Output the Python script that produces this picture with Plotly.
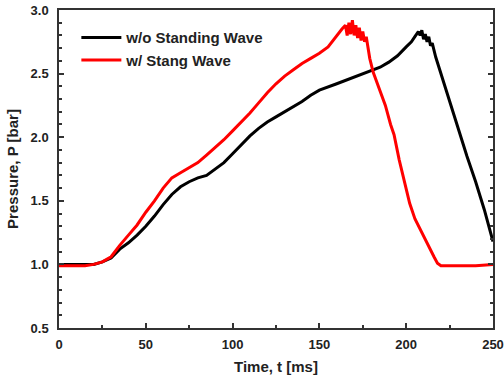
import plotly.graph_objects as go

# Without standing wave (black)
t_black = [0, 5, 10, 15, 20, 25, 30, 35, 40, 45, 50, 55, 60, 65, 70, 75, 80, 85, 90, 95, 100,
           105, 110, 115, 120, 125, 130, 135, 140, 145, 150, 160, 170, 180, 185, 190, 195, 200,
           203, 205, 207, 208, 209, 210, 211, 212, 213, 214, 215, 217, 220, 225, 230, 235, 240,
           245, 250]
p_black = [1.00, 1.00, 1.00, 1.00, 1.00, 1.02, 1.05, 1.12, 1.17, 1.23, 1.30, 1.38, 1.47, 1.55, 1.61,
           1.65, 1.68, 1.70, 1.75, 1.80, 1.87, 1.94, 2.01, 2.07, 2.12, 2.16, 2.20, 2.24, 2.28, 2.33,
           2.37, 2.42, 2.47, 2.52, 2.55, 2.59, 2.64, 2.71, 2.75, 2.79, 2.83, 2.80, 2.84, 2.77, 2.81,
           2.75, 2.79, 2.72, 2.74, 2.63, 2.50, 2.27, 2.06, 1.85, 1.65, 1.43, 1.18]

# With standing wave (red)
t_red = [0, 5, 10, 15, 20, 25, 30, 35, 40, 45, 50, 55, 60, 65, 70, 75, 80, 85, 90, 95, 100,
         105, 110, 115, 120, 125, 130, 135, 140, 145, 150, 155, 160, 163, 165, 166, 167, 168,
         169, 170, 171, 172, 173, 174, 175, 176, 177, 179, 181, 185, 188, 191, 193, 196, 199,
         202, 205, 210, 213, 216, 218, 220, 230, 240, 250]
p_red = [0.99, 0.99, 0.99, 0.99, 1.00, 1.02, 1.06, 1.15, 1.23, 1.31, 1.41, 1.50, 1.60, 1.68, 1.72,
         1.76, 1.80, 1.86, 1.92, 1.98, 2.05, 2.12, 2.19, 2.27, 2.35, 2.42, 2.48, 2.53, 2.58, 2.62,
         2.66, 2.71, 2.80, 2.85, 2.88, 2.80, 2.90, 2.81, 2.92, 2.80, 2.88, 2.78, 2.86, 2.76, 2.83,
         2.75, 2.79, 2.62, 2.51, 2.36, 2.25, 2.10, 2.02, 1.82, 1.64, 1.48, 1.36, 1.22, 1.14, 1.06,
         1.01, 0.99, 0.99, 0.99, 1.00]

x_ticks = [0, 50, 100, 150, 200, 250]
y_ticks = [0.5, 1.0, 1.5, 2.0, 2.5, 3.0]
y_tick_labels = ["0.5", "1.0", "1.5", "2.0", "2.5", "3.0"]

font_family = "Liberation Sans, Arial, sans-serif"

fig = go.Figure()
fig.add_trace(go.Scatter(x=t_black, y=p_black, mode="lines", name="w/o Standing Wave",
                         line=dict(color="black", width=3)))
fig.add_trace(go.Scatter(x=t_red, y=p_red, mode="lines", name="w/ Stang Wave",
                         line=dict(color="#ff0000", width=3)))

fig.update_layout(
    width=504, height=383,
    margin=dict(l=59, r=11, t=10, b=55),
    plot_bgcolor="white", paper_bgcolor="white",
    font=dict(family=font_family, size=12, color="#222222"),
    showlegend=True,
    legend=dict(x=0.04, y=0.965, xanchor="left", yanchor="top",
                bgcolor="rgba(0,0,0,0)", borderwidth=0,
                font=dict(family=font_family, size=15, color="#222222", weight="bold"),
                itemwidth=40, tracegroupgap=0),
)
fig.update_xaxes(
    range=[0, 250], tickvals=x_ticks, ticks="inside", ticklen=5, tickwidth=1.5,
    minor=dict(dtick=25, ticks="inside", ticklen=3, tickwidth=1.5, tickcolor="#333"),
    showline=True, linecolor="#333", linewidth=1.5, mirror=True,
    showgrid=False, zeroline=False, tickcolor="#333", automargin=False,
    tickfont=dict(family=font_family, size=13, weight="bold"),
    ticklabelstandoff=4,
    title=dict(text="Time, t [ms]", font=dict(family=font_family, size=15, weight="bold"),
               standoff=10),
)
fig.update_yaxes(
    range=[0.5, 3.0], tickvals=y_ticks, ticktext=y_tick_labels, ticks="inside", ticklen=5, tickwidth=1.5,
    minor=dict(dtick=0.1, ticks="inside", ticklen=3, tickwidth=1.5, tickcolor="#333"),
    showline=True, linecolor="#333", linewidth=1.5, mirror="ticks",
    showgrid=False, zeroline=False, tickcolor="#333", automargin=False,
    tickfont=dict(family=font_family, size=13, weight="bold"),
    ticklabelstandoff=6,
    title=dict(text="Pressure, P [bar]", font=dict(family=font_family, size=15, weight="bold"),
               standoff=8),
)

fig.write_html("out.html", config={"displayModeBar": False},
               post_script="document.body.style.margin='0';")
